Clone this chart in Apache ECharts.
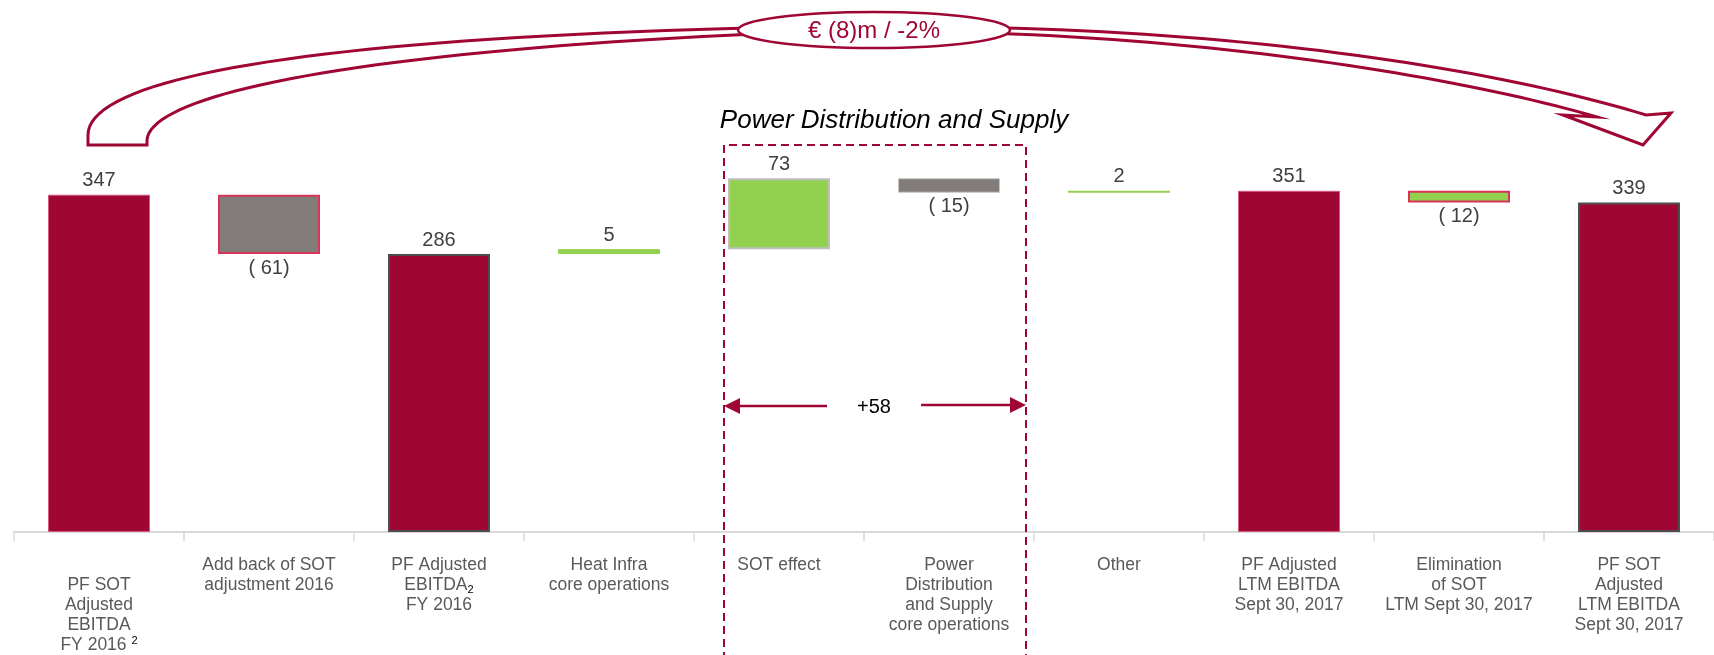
<!DOCTYPE html>
<html>
<head>
<meta charset="utf-8">
<script src="https://cdn.jsdelivr.net/npm/echarts@6/dist/echarts.min.js"></script>
<style>
html,body{margin:0;padding:0;background:#fff;}
#main{width:1714px;height:655px;}
</style>
</head>
<body>
<div id="main"></div>
<script>
// ---- data ----
const categories = [
  'PF SOT\nAdjusted\nEBITDA\nFY 2016',
  'Add back of SOT\nadjustment 2016',
  'PF Adjusted\nEBITDA\nFY 2016',
  'Heat Infra\ncore operations',
  'SOT effect',
  'Power\nDistribution\nand Supply\ncore operations',
  'Other',
  'PF Adjusted\nLTM EBITDA\nSept 30, 2017',
  'Elimination\nof SOT\nLTM Sept 30, 2017',
  'PF SOT\nAdjusted\nLTM EBITDA\nSept 30, 2017'
];
const values = [347, -61, 286, 5, 73, -15, 2, 351, -12, 339];
const isTotal = [true, false, true, false, false, false, false, true, false, true];
const valueLabels = ['347', '( 61)', '286', '5', '73', '( 15)', '2', '351', '( 12)', '339'];
const bridgeText = '€ (8)m / -2%';
const groupTitle = 'Power Distribution and Supply';
const groupDelta = '+58';

// ---- styles ----
const CRIMSON = '#A00633';
const GREY = '#827D7A';
const GREEN = '#92D050';
const FONT = '"Liberation Sans", Arial, sans-serif';
const fills   = [CRIMSON, GREY, CRIMSON, GREEN, GREEN, GREY, GREEN, CRIMSON, GREEN, CRIMSON];
const borders = ['#D45B7A', '#D9335A', '#4D4D4D', GREEN, '#BFBFBF', '#C9C9C9', GREEN, '#D45B7A', '#D9335A', '#4D4D4D'];
const borderW = [1, 2, 2, 1, 2, 1, 1.5, 1, 2, 2];

// waterfall table built from values
const base = [], height = [];
let running = 0;
values.forEach((v, i) => {
  if (isTotal[i]) { base.push(0); height.push(v); running = v; }
  else if (v >= 0) { base.push(running); height.push(v); running += v; }
  else { base.push(running + v); height.push(-v); running += v; }
});

const visData = height.map((h, i) => ({
  value: h,
  itemStyle: { color: fills[i], borderColor: borders[i], borderWidth: borderW[i] },
  label: {
    show: true,
    position: values[i] < 0 ? 'bottom' : 'top',
    distance: 4,
    formatter: valueLabels[i],
    fontSize: 20,
    color: '#404040',
    fontFamily: FONT
  }
}));

// curved hollow arrow outline (annotation geometry)
function bez(p0, p1, p2, p3, n) {
  const pts = [];
  for (let k = 0; k <= n; k++) {
    const t = k / n, u = 1 - t;
    pts.push([
      u*u*u*p0[0] + 3*u*u*t*p1[0] + 3*u*t*t*p2[0] + t*t*t*p3[0],
      u*u*u*p0[1] + 3*u*u*t*p1[1] + 3*u*t*t*p2[1] + t*t*t*p3[1]
    ]);
  }
  return pts;
}
const arrowPts = [].concat(
  [[88, 145]],
  bez([88, 135], [88, 75], [330, 36], [800, 27], 40),
  bez([950, 27], [1250, 30], [1500, 70], [1646, 115], 40),
  [[1671, 113], [1643, 145], [1563, 115]],
  bez([1597, 117], [1470, 80], [1230, 38], [950, 32], 40),
  bez([800, 32], [350, 50], [150, 95], [147, 140], 40),
  [[147, 145]]
);

const chart = echarts.init(document.getElementById('main'), null, { renderer: 'canvas' });

chart.setOption({
  animation: false,
  backgroundColor: '#fff',
  grid: { left: 14, width: 1713, top: 46, height: 488 },
  xAxis: {
    type: 'category',
    data: categories,
    axisLine: { lineStyle: { color: '#D9D9D9', width: 2 } },
    axisTick: { show: true, length: 9, lineStyle: { color: '#D9D9D9', width: 1.5 } },
    axisLabel: {
      interval: 0,
      margin: 23,
      verticalAlign: 'top',
      fontSize: 17.5,
      lineHeight: 20,
      color: '#595959',
      fontFamily: FONT,
      formatter: (v, i) => {
        if (i === 0) return '\n' + v + ' {sup|2}';
        if (i === 2) return v.replace('EBITDA', 'EBITDA{sub|2}');
        return v;
      },
      rich: {
        sup: { fontSize: 11, color: '#000', verticalAlign: 'top', fontFamily: FONT },
        sub: { fontSize: 11, color: '#000', verticalAlign: 'bottom', fontFamily: FONT }
      }
    }
  },
  yAxis: { type: 'value', min: 0, max: 500, show: false, splitLine: { show: false } },
  series: [
    { type: 'bar', stack: 'w', data: base, itemStyle: { color: 'transparent' }, barWidth: '60%', silent: true },
    { type: 'bar', stack: 'w', data: visData, barWidth: '60%' }
  ],
  graphic: [
    {
      type: 'polygon', z: 100,
      shape: { points: arrowPts },
      style: { fill: '#fff', stroke: CRIMSON, lineWidth: 3, lineJoin: 'miter' }
    },
    {
      type: 'ellipse', z: 101,
      shape: { cx: 874, cy: 30, rx: 136, ry: 18 },
      style: { fill: '#fff', stroke: CRIMSON, lineWidth: 2.5 }
    },
    {
      type: 'text', z: 102,
      style: { text: bridgeText, x: 874, y: 31, align: 'center', verticalAlign: 'middle', font: '24px ' + FONT, fill: CRIMSON }
    },
    {
      type: 'text', z: 102,
      style: { text: groupTitle, x: 894, y: 121, align: 'center', verticalAlign: 'middle', font: 'italic 26px ' + FONT, fill: '#000' }
    },
    {
      type: 'polyline', z: 100,
      shape: { points: [[724, 660], [724, 145], [1026, 145], [1026, 660]] },
      style: { stroke: CRIMSON, lineWidth: 2, lineDash: [8, 5], fill: null }
    },
    {
      type: 'line', z: 100,
      shape: { x1: 736, y1: 406, x2: 827, y2: 406 },
      style: { stroke: CRIMSON, lineWidth: 2.5 }
    },
    {
      type: 'polygon', z: 100,
      shape: { points: [[724, 406], [740, 398], [740, 414]] },
      style: { fill: CRIMSON }
    },
    {
      type: 'line', z: 100,
      shape: { x1: 921, y1: 405, x2: 1014, y2: 405 },
      style: { stroke: CRIMSON, lineWidth: 2.5 }
    },
    {
      type: 'polygon', z: 100,
      shape: { points: [[1026, 405], [1010, 397], [1010, 413]] },
      style: { fill: CRIMSON }
    },
    {
      type: 'text', z: 102,
      style: { text: groupDelta, x: 874, y: 407, align: 'center', verticalAlign: 'middle', font: '20px ' + FONT, fill: '#000' }
    }
  ]
});
</script>
</body>
</html>
